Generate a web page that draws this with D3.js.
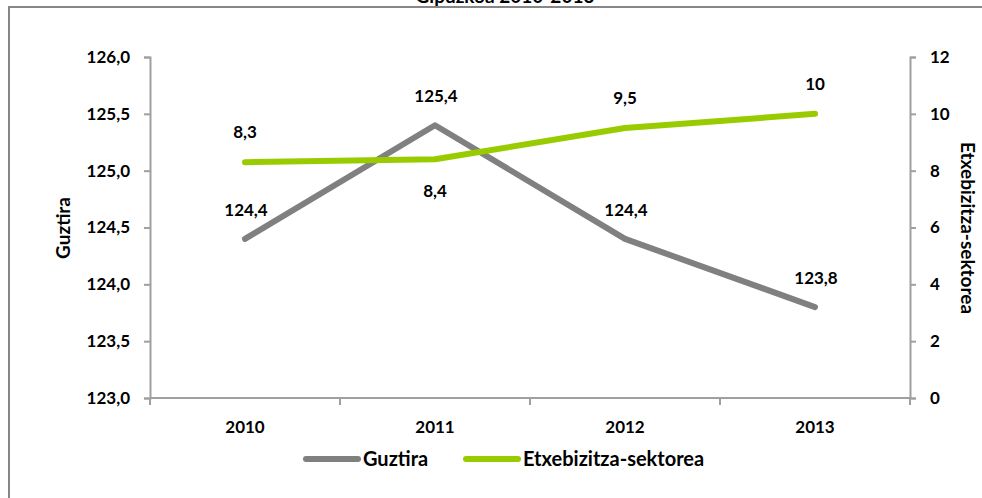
<!DOCTYPE html>
<html>
<head>
<meta charset="utf-8">
<script src="https://cdn.jsdelivr.net/npm/d3@7"></script>
<style>
  body { margin: 0; background: #fff; }
  svg text { font-family: Lato, "Open Sans", sans-serif; font-weight: 700; fill: #000; }
</style>
</head>
<body>
<div id="chart"></div>
<script>
var years = ['2010', '2011', '2012', '2013'];
var guztira = [124.4, 125.4, 124.4, 123.8];
var etxebizitza = [8.3, 8.4, 9.5, 10];
var leftTicks = [123, 123.5, 124, 124.5, 125, 125.5, 126];
var rightTicks = [0, 2, 4, 6, 8, 10, 12];
// label above (-1) or below (+1) the point
var etxeLabelSide = [-1, 1, -1, -1];

var width = 982, height = 498;
var plot = {left: 150, right: 910, top: 57, bottom: 398};

var svg = d3.select('#chart')
    .append('svg')
        .attr('width', width)
        .attr('height', height);

// outer frame (only top and left edges show)
svg.append('rect')
    .attr('x', 9).attr('y', 7)
    .attr('width', 1000).attr('height', 520)
    .attr('fill', 'none')
    .attr('stroke', '#868686')
    .attr('stroke-width', 2);

// title sits mostly above the visible area, as in the source
svg.append('text')
    .attr('x', 505).attr('y', 3)
    .attr('text-anchor', 'middle')
    .style('font-size', '19px')
    .text('Gipuzkoa 2010-2013');

var x = d3.scaleBand().domain(years).range([plot.left, plot.right]);
var yL = d3.scaleLinear().domain([123, 126]).range([plot.bottom, plot.top]);
var yR = d3.scaleLinear().domain([0, 12]).range([plot.bottom, plot.top]);

var fmt = function (v, n) { return v.toFixed(n).replace('.', ','); };
var axisColor = '#a0a0a0';

function styleAxis(g) {
    g.select('.domain').attr('stroke', axisColor).attr('stroke-width', 2);
    g.selectAll('.tick line').attr('stroke', axisColor).attr('stroke-width', 2);
    g.selectAll('.tick text').style('font-size', '17px')
        .style('font-family', 'Lato, "Open Sans", sans-serif');
}

// left axis
svg.append('g')
    .attr('transform', 'translate(' + plot.left + ',0)')
    .call(d3.axisLeft(yL).tickValues(leftTicks).tickSize(6).tickSizeOuter(6)
        .tickPadding(14).tickFormat(function (d) { return fmt(d, 1); }))
    .call(styleAxis);

// right axis
svg.append('g')
    .attr('transform', 'translate(' + plot.right + ',0)')
    .call(d3.axisRight(yR).tickValues(rightTicks).tickSize(6).tickSizeOuter(6)
        .tickPadding(14).tickFormat(d3.format('d')))
    .call(styleAxis);

// bottom axis: ticks at band boundaries, labels at band centres
var xAxis = svg.append('g')
    .attr('transform', 'translate(0,' + plot.bottom + ')');
xAxis.append('line')
    .attr('x1', plot.left).attr('x2', plot.right)
    .attr('stroke', axisColor).attr('stroke-width', 2);
var bounds = years.map(function (d) { return x(d); }).concat([x(years[years.length - 1]) + x.bandwidth()]);
xAxis.selectAll('line.tk')
    .data(bounds)
    .enter().append('line')
        .attr('class', 'tk')
        .attr('x1', function (d) { return d; })
        .attr('x2', function (d) { return d; })
        .attr('y1', 0).attr('y2', 7)
        .attr('stroke', axisColor).attr('stroke-width', 2);
xAxis.selectAll('text')
    .data(years)
    .enter().append('text')
        .attr('x', function (d) { return x(d) + x.bandwidth() / 2; })
        .attr('y', 35)
        .attr('text-anchor', 'middle')
        .style('font-size', '17px')
        .text(function (d) { return d; });

// axis titles
svg.append('text')
    .attr('transform', 'translate(70,228) rotate(-90)')
    .attr('text-anchor', 'middle')
    .style('font-size', '19px')
    .text('Guztira');
svg.append('text')
    .attr('transform', 'translate(961,228) rotate(90)')
    .attr('text-anchor', 'middle')
    .style('font-size', '19px')
    .text('Etxebizitza-sektorea');

var cx = function (i) { return x(years[i]) + x.bandwidth() / 2; };

var gray = '#808080', green = '#99cc00';

var line1 = d3.line()
    .x(function (d, i) { return cx(i); })
    .y(function (d) { return yL(d); });
var line2 = d3.line()
    .x(function (d, i) { return cx(i); })
    .y(function (d) { return yR(d); });

svg.append('path')
    .datum(guztira)
    .attr('d', line1)
    .attr('fill', 'none')
    .attr('stroke', gray)
    .attr('stroke-width', 6)
    .attr('stroke-linecap', 'round')
    .attr('stroke-linejoin', 'round');

svg.append('path')
    .datum(etxebizitza)
    .attr('d', line2)
    .attr('fill', 'none')
    .attr('stroke', green)
    .attr('stroke-width', 6)
    .attr('stroke-linecap', 'round')
    .attr('stroke-linejoin', 'round');

// data labels
svg.selectAll('text.lbl1')
    .data(guztira)
    .enter().append('text')
        .attr('class', 'lbl1')
        .attr('x', function (d, i) { return cx(i) + 1; })
        .attr('y', function (d) { return yL(d) - 23; })
        .attr('text-anchor', 'middle')
        .style('font-size', '17px')
        .text(function (d) { return fmt(d, 1); });

svg.selectAll('text.lbl2')
    .data(etxebizitza)
    .enter().append('text')
        .attr('class', 'lbl2')
        .attr('x', function (d, i) { return cx(i); })
        .attr('y', function (d, i) {
            return etxeLabelSide[i] < 0 ? yR(d) - 24 : yR(d) + 38;
        })
        .attr('text-anchor', 'middle')
        .style('font-size', '17px')
        .text(function (d) { return d % 1 === 0 ? d : fmt(d, 1); });

// legend
var legend = [
    {name: 'Guztira', color: gray, x: 306},
    {name: 'Etxebizitza-sektorea', color: green, x: 466}
];
var lg = svg.selectAll('g.legend')
    .data(legend)
    .enter().append('g')
        .attr('class', 'legend')
        .attr('transform', function (d) { return 'translate(' + d.x + ',459)'; });
lg.append('line')
    .attr('x1', 0).attr('x2', 52)
    .attr('stroke', function (d) { return d.color; })
    .attr('stroke-width', 6)
    .attr('stroke-linecap', 'round');
lg.append('text')
    .attr('x', 57).attr('y', 7)
    .style('font-size', '20px')
    .text(function (d) { return d.name; });
</script>
</body>
</html>
